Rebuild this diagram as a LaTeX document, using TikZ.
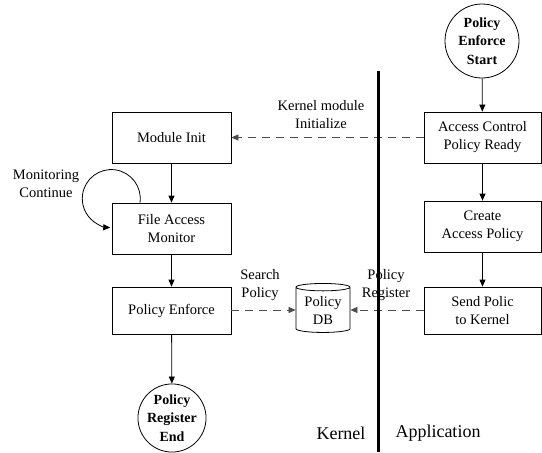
\documentclass[tikz,border=0pt]{standalone}
\usepackage{fontspec}
\setmainfont{Liberation Serif}
\usetikzlibrary{arrows.meta,shapes.geometric}
\begin{document}
\begin{tikzpicture}[x=1pt,y=1pt,
  every node/.style={font=\fontsize{14.5}{18}\selectfont, align=center},
  box/.style={draw, line width=0.8pt, rectangle, inner sep=0pt},
  term/.style={draw, line width=0.8pt, circle, inner sep=0pt, font=\fontsize{14}{18.5}\selectfont\bfseries},
  lbl/.style={inner sep=0pt},
  flow/.style={line width=0.8pt, -{Triangle[length=7pt,width=6pt]}},
  msg/.style={line width=0.8pt, draw=black!70, dash pattern=on 8pt off 6pt, -{Triangle[length=7pt,width=6pt]}},
]
\useasboundingbox (0,0) rectangle (542,-453);

\node[term, minimum size=74pt] (start) at (482,-41) {Policy\\Enforce\\Start};
\node[box, minimum width=117pt, minimum height=51pt] (ac) at (482.5,-137.5) {Access Control\\Policy Ready};
\node[box, minimum width=117pt, minimum height=51pt] (cap) at (482.5,-226.5) {Create\\Access Policy};
\node[box, minimum width=117pt, minimum height=47pt] (send) at (482.5,-310.5) {Send Polic\\to Kernel};

\node[box, minimum width=119pt, minimum height=51pt] (mi) at (171.5,-137.5) {Module Init};
\node[box, minimum width=119pt, minimum height=51pt] (fam) at (171.5,-228.5) {File Access\\Monitor};
\node[box, minimum width=119pt, minimum height=47pt] (pe) at (171.5,-310.5) {Policy Enforce};
\node[term, minimum size=68pt] (end) at (172,-418) {Policy\\Register\\End};

\node[draw, line width=0.8pt, cylinder, shape border rotate=90, aspect=0.2,
      minimum width=54pt, minimum height=49pt, inner sep=0pt] (db) at (323,-310) {Policy\\DB};

\node[lbl] (l1) at (46,-184) {Monitoring\\Continue};
\node[lbl] (l2) at (321,-115) {Kernel module\\Initialize};
\node[lbl] (l3) at (260,-285) {Search\\Policy};
\node[lbl] (l4) at (386,-285) {Policy\\Register};
\node[lbl, font=\fontsize{18}{22}\selectfont] (kern) at (341,-433) {Kernel};
\node[lbl, font=\fontsize{18}{22}\selectfont] (app) at (438,-433) {Application};

\draw[flow] (start) -- (ac);
\draw[flow] (ac) -- (cap);
\draw[flow] (cap) -- (send);
\draw[flow] (mi) -- (fam);
\draw[flow] (fam) -- (pe);
\draw[flow] (pe) -- (end);
\draw[flow] ([xshift=-31.5pt]fam.north) arc[start angle=-8, end angle=268, radius=29];

\draw[msg] (ac) -- (mi);
\draw[msg] (pe.east |- db.west) -- (db.west);
\draw[msg] (send.west |- db.east) -- (db.east);

\coordinate (divtop) at (378.5,-71);
\coordinate (divbot) at (378.5,-452);
\draw[line width=3pt] (divtop) -- (divbot);
\end{tikzpicture}
\end{document}
